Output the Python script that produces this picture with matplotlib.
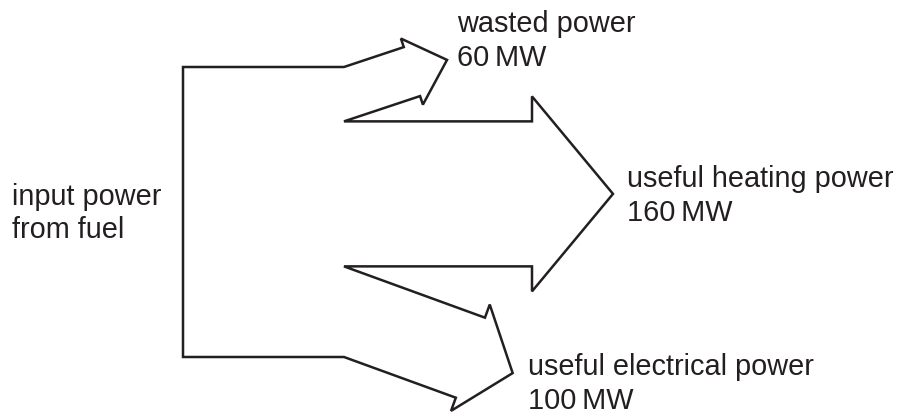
import numpy as np
import matplotlib.pyplot as plt

# === Flow values (MW) ===
input_power = 320
flow_names = ["wasted power", "useful heating power", "useful electrical power"]
flow_values = [60, 160, 100]
input_label = ["input power", "from fuel"]

# === Layout (pixel units, y grows downwards) ===
W, H = 900, 414
scale = 290 / input_power          # px per MW
x_left, y_top = 183, 68
x_split = 344
# per-flow geometry: angle (deg), shaft length, barb extra, head length
angles = [-18.4, 0.0, 20.0]
shaft_len = [63, 188, 150]
barb = [9, 25, 14]
head_len = [37, 81, 45]
label_pos = [(457, 32), (627, 187), (528, 375)]
input_pos = (12, 205)
line_gap = 34
ink = "#231f20"

plt.rcParams['font.family'] = ['Liberation Sans', 'DejaVu Sans']

fig = plt.figure(figsize=(W / 100, H / 100), dpi=100)
ax = fig.add_axes([0, 0, 1, 1])
ax.set_xlim(0, W)
ax.set_ylim(H, 0)
ax.axis("off")

# === Build the outline ===
y_bot = y_top + input_power * scale
pts = [(x_left, y_bot), (x_left, y_top)]
y0 = y_top
for val, a, L, e, h in zip(flow_values, angles, shaft_len, barb, head_len):
    w = val * scale
    t = np.radians(a)
    d = np.array([np.cos(t), np.sin(t)])
    n = np.array([-np.sin(t), np.cos(t)])
    start_top = np.array([x_split, y0])
    end_top = start_top + L * d
    end_bot = end_top + w * np.cos(t) * n
    tip = (end_top + end_bot) / 2 + h * d
    pts += [tuple(start_top), tuple(end_top), tuple(end_top - e * n), tuple(tip),
            tuple(end_bot + e * n), tuple(end_bot), (x_split, y0 + w)]
    y0 += w

pts = np.array(pts)
ax.add_patch(plt.Polygon(pts, closed=True, fill=False, edgecolor=ink,
                         linewidth=1.8, joinstyle='miter'))

# === Labels ===
fs = 20.8
for name, val, (tx, ty) in zip(flow_names, flow_values, label_pos):
    ax.text(tx, ty, name, fontsize=fs, color=ink, ha='left', va='baseline')
    ax.text(tx, ty + line_gap, f"{val}\u2009MW", fontsize=fs, color=ink,
            ha='left', va='baseline')

for i, line in enumerate(input_label):
    ax.text(input_pos[0], input_pos[1] + i * (line_gap - 1), line, fontsize=fs,
            color=ink, ha='left', va='baseline')

fig.savefig("out.png", dpi=100)
